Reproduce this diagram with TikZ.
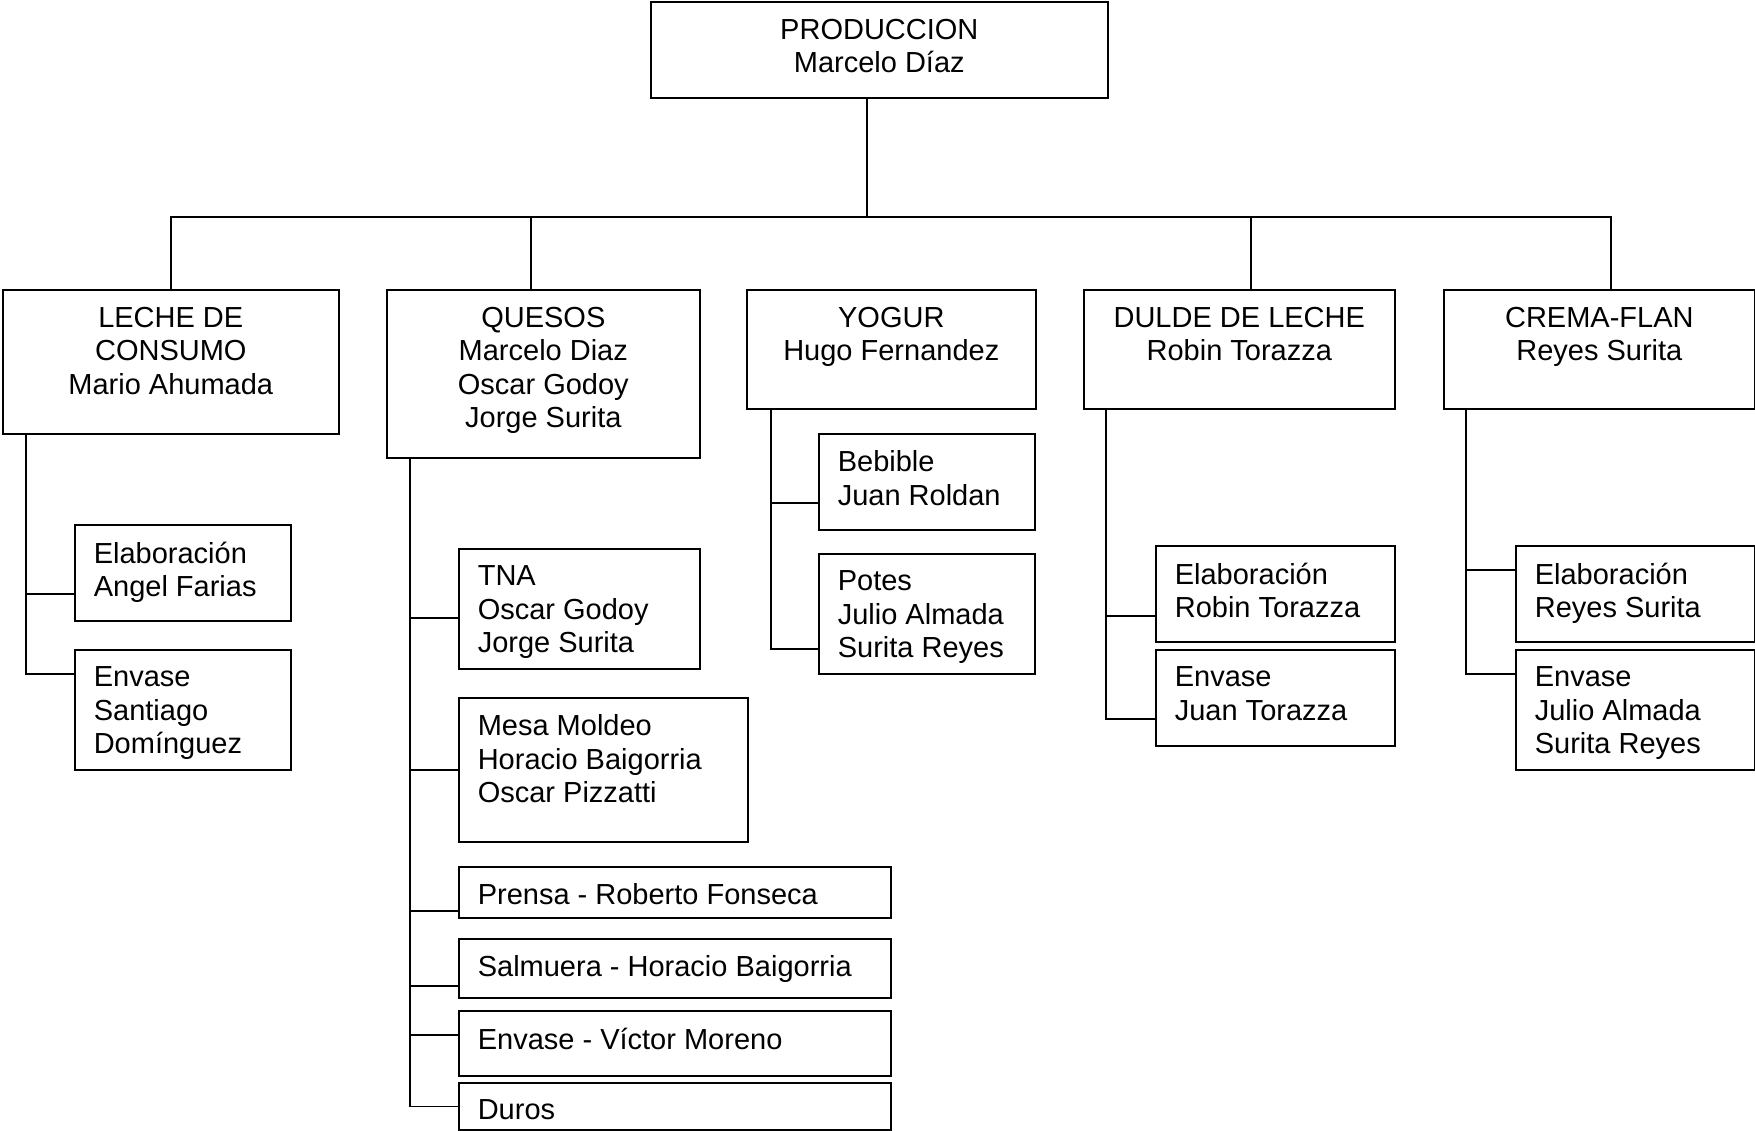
\documentclass[tikz,border=0pt]{standalone}
\usepackage{fontspec}
\setmainfont{Liberation Sans}
\usepackage{tikz}

\begin{document}
\begin{tikzpicture}[
		x=1pt, y=-1pt,
		every node/.style={font=\fontsize{29pt}{33.5pt}\selectfont},
		unit/.style={rectangle, draw, line width=1.6pt, anchor=north west, inner sep=0pt},
		head/.style={anchor=north, align=center, inner xsep=0pt, inner ysep=17pt},
		sub/.style={anchor=north west, align=left, inner xsep=19pt, inner ysep=17pt},
		line width=1.6pt
	]
  \useasboundingbox (0,0) rectangle (1755,1130);
  % top and sections
  \node (prod) [unit, minimum width=457pt, minimum height=96pt, label={[head]north:{PRODUCCION\\Marcelo Díaz}}] at (650,1) {};
  \node (leche) [unit, minimum width=336pt, minimum height=144pt, label={[head]north:{LECHE DE\\CONSUMO\\Mario Ahumada}}] at (2,289) {};
  \node (quesos) [unit, minimum width=313pt, minimum height=168pt, label={[head]north:{QUESOS\\Marcelo Diaz\\Oscar Godoy\\Jorge Surita}}] at (386,289) {};
  \node (yogur) [unit, minimum width=289pt, minimum height=119pt, label={[head]north:{YOGUR\\Hugo Fernandez}}] at (746,289) {};
  \node (dulce) [unit, minimum width=311pt, minimum height=119pt, label={[head]north:{DULDE DE LECHE\\Robin Torazza}}] at (1083,289) {};
  \node (crema) [unit, minimum width=311pt, minimum height=119pt, label={[head]north:{CREMA-FLAN\\Reyes Surita}}] at (1443,289) {};
  % leche de consumo
  \node (lec_elab) [unit, minimum width=216pt, minimum height=96pt, label={[sub]north west:{Elaboración\\Angel Farias}}] at (74,524) {};
  \node (lec_env) [unit, minimum width=216pt, minimum height=120pt, label={[sub]north west:{Envase\\Santiago\\Domínguez}}] at (74,649) {};
  % quesos
  \node (q_tna) [unit, minimum width=241pt, minimum height=120pt, label={[sub]north west:{TNA\\Oscar Godoy\\Jorge Surita}}] at (458,548) {};
  \node (q_mesa) [unit, minimum width=289pt, minimum height=144pt, label={[sub]north west:{Mesa Moldeo\\Horacio Baigorria\\Oscar Pizzatti}}] at (458,697) {};
  \node (q_prensa) [unit, minimum width=432pt, minimum height=51pt, label={[sub]north west:{Prensa - Roberto Fonseca}}] at (458,866) {};
  \node (q_salm) [unit, minimum width=432pt, minimum height=59pt, label={[sub]north west:{Salmuera - Horacio Baigorria}}] at (458,938) {};
  \node (q_env) [unit, minimum width=432pt, minimum height=65pt, label={[sub]north west:{Envase - Víctor Moreno}}] at (458,1010) {};
  \node (q_duros) [unit, minimum width=432pt, minimum height=47pt, label={[sub]north west:{Duros}}] at (458,1082) {};
  % yogur
  \node (y_beb) [unit, minimum width=216pt, minimum height=96pt, label={[sub]north west:{Bebible\\Juan Roldan}}] at (818,433) {};
  \node (y_pot) [unit, minimum width=216pt, minimum height=120pt, label={[sub]north west:{Potes\\Julio Almada\\Surita Reyes}}] at (818,553) {};
  % dulce de leche
  \node (d_elab) [unit, minimum width=239pt, minimum height=96pt, label={[sub]north west:{Elaboración\\Robin Torazza}}] at (1155,545) {};
  \node (d_env) [unit, minimum width=239pt, minimum height=96pt, label={[sub]north west:{Envase\\Juan Torazza}}] at (1155,649) {};
  % crema-flan
  \node (c_elab) [unit, minimum width=239pt, minimum height=96pt, label={[sub]north west:{Elaboración\\Reyes Surita}}] at (1515,545) {};
  \node (c_env) [unit, minimum width=239pt, minimum height=120pt, label={[sub]north west:{Envase\\Julio Almada\\Surita Reyes}}] at (1515,649) {};

  \coordinate (bus) at (0,217);
  \draw ([xshift=-12.5pt]prod.south) -- ([xshift=-12.5pt]prod.south |- bus);
  \draw (leche.north) -- (leche.north |- bus) -- ([xshift=11.5pt]crema.north |- bus) -- ([xshift=11.5pt]crema.north);
  \draw ([xshift=-12.5pt]quesos.north) -- ([xshift=-12.5pt]quesos.north |- bus);
  \draw ([xshift=11.5pt]dulce.north) -- ([xshift=11.5pt]dulce.north |- bus);

  \draw ([xshift=24pt]leche.south west) |- ([yshift=-21pt]lec_elab.west);
  \draw ([xshift=24pt]leche.south west) |- ([yshift=36pt]lec_env.west);
  \draw ([xshift=24pt]quesos.south west) |- ([yshift=-9pt]q_tna.west);
  \draw ([xshift=24pt]quesos.south west) |- (q_mesa.west);
  \draw ([xshift=24pt]quesos.south west) |- ([yshift=-18.5pt]q_prensa.west);
  \draw ([xshift=24pt]quesos.south west) |- ([yshift=-17.5pt]q_salm.west);
  \draw ([xshift=24pt]quesos.south west) |- ([yshift=8.5pt]q_env.west);
  \draw ([xshift=24pt]quesos.south west) |- (q_duros.west);
  \draw ([xshift=25pt]yogur.south west) |- ([yshift=-21pt]y_beb.west);
  \draw ([xshift=25pt]yogur.south west) |- ([yshift=-35pt]y_pot.west);
  \draw ([xshift=23pt]dulce.south west) |- ([yshift=-22pt]d_elab.west);
  \draw ([xshift=23pt]dulce.south west) |- ([yshift=-21pt]d_env.west);
  \draw ([xshift=23pt]crema.south west) |- ([yshift=24pt]c_elab.west);
  \draw ([xshift=23pt]crema.south west) |- ([yshift=36pt]c_env.west);
\end{tikzpicture}
\end{document}
